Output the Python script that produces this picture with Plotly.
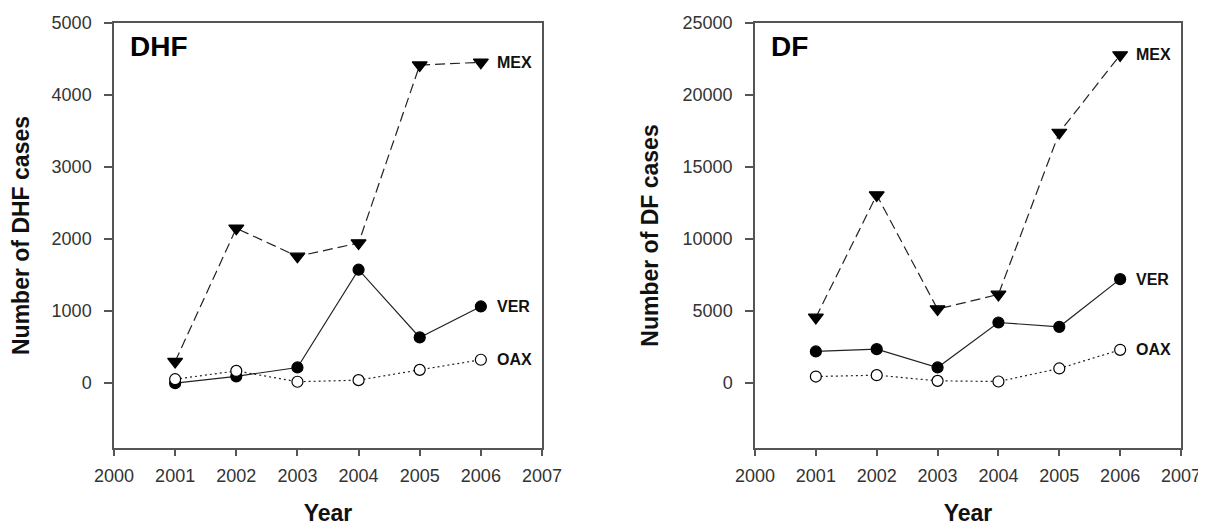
import plotly.graph_objects as go

years = [2001, 2002, 2003, 2004, 2005, 2006]

# DHF panel
dhf_mex = [300, 2150, 1760, 1945, 4415, 4455]
dhf_ver = [0, 95, 218, 1575, 635, 1065]
dhf_oax = [55, 170, 20, 42, 185, 325]

# DF panel
df_mex = [4560, 13060, 5140, 6160, 17400, 22780]
df_ver = [2200, 2360, 1090, 4210, 3910, 7220]
df_oax = [460, 555, 160, 115, 1020, 2315]

series_names = ["MEX", "VER", "OAX"]
x_ticks = [2000, 2001, 2002, 2003, 2004, 2005, 2006, 2007]
dhf_yticks = [0, 1000, 2000, 3000, 4000, 5000]
df_yticks = [0, 5000, 10000, 15000, 20000, 25000]

FONT = "Liberation Sans, Arial, sans-serif"
LINE_C = "#222222"
AX_C = "#555555"

fig = go.Figure()

styles = {
    "MEX": dict(dash="10px,5px", symbol="triangle-down", fill="#000000", size=13),
    "VER": dict(dash="solid", symbol="circle", fill="#000000", size=11),
    "OAX": dict(dash="2px,3px", symbol="circle", fill="#ffffff", size=11),
}

panels = [
    ("x", "y", [dhf_mex, dhf_ver, dhf_oax]),
    ("x2", "y2", [df_mex, df_ver, df_oax]),
]

for xr, yr, data in panels:
    for name, vals in zip(series_names, data):
        st = styles[name]
        fig.add_trace(go.Scatter(
            x=years, y=vals, mode="lines+markers", name=name,
            xaxis=xr, yaxis=yr, showlegend=False,
            line=dict(color=LINE_C, width=1.2, dash=st["dash"]),
            marker=dict(symbol=st["symbol"], size=st["size"], color=st["fill"],
                        line=dict(color="#000000", width=1.2)),
            cliponaxis=False,
        ))
        fig.add_annotation(
            x=years[-1], y=vals[-1], xref=xr, yref=yr, text=name,
            showarrow=False, xanchor="left", yanchor="middle", xshift=14,
            font=dict(family=FONT, size=16, color="#111111", weight="bold"),
        )

axis_common = dict(
    showline=True, linecolor=AX_C, linewidth=1.5, mirror=True,
    ticks="outside", tickcolor=AX_C, tickwidth=1.5,
    showgrid=False, zeroline=False, automargin=False,
    tickfont=dict(family=FONT, size=18, color="#333333"),
)

title_font = dict(family=FONT, size=23, color="#111111")

# page has an 8px body margin; figure sized to fit the window
W, H, OFF = 1198, 518, 8
xdom1 = [(114 - OFF) / W, (542 - OFF) / W]
xdom2 = [(755 - OFF) / W, (1181 - OFF) / W]
ydom = [1 - (448 - OFF) / H, 1 - (23 - OFF) / H]

fig.update_layout(
    width=W, height=H,
    margin=dict(l=0, r=0, t=0, b=0),
    paper_bgcolor="white", plot_bgcolor="white",
    xaxis=dict(domain=xdom1, range=[2000, 2007], tickvals=x_ticks, ticklen=6,
               anchor="y", ticklabelstandoff=5,
               title=dict(text="<b>Year</b>", standoff=25, font=title_font),
               **axis_common),
    yaxis=dict(domain=ydom, range=[-900, 5000], tickvals=dhf_yticks, ticklen=8,
               anchor="x", ticklabelstandoff=9, tickformat="d",
               title=dict(text="<b>Number of DHF cases</b>", standoff=18, font=title_font),
               **axis_common),
    xaxis2=dict(domain=xdom2, range=[2000, 2007], tickvals=x_ticks, ticklen=6,
                anchor="y2", ticklabelstandoff=5,
                title=dict(text="<b>Year</b>", standoff=25, font=title_font),
                **axis_common),
    yaxis2=dict(domain=ydom, range=[-4500, 25000], tickvals=df_yticks, ticklen=8,
                anchor="x2", ticklabelstandoff=9, tickformat="d",
                title=dict(text="<b>Number of DF cases</b>", standoff=18, font=title_font),
                **axis_common),
)

fig.add_annotation(x=0.033, y=0.985, xref="x domain", yref="y domain", text="<b>DHF</b>",
                   showarrow=False, xanchor="left", yanchor="top",
                   font=dict(family=FONT, size=28, color="#000000"))
fig.add_annotation(x=0.033, y=0.985, xref="x2 domain", yref="y2 domain", text="<b>DF</b>",
                   showarrow=False, xanchor="left", yanchor="top",
                   font=dict(family=FONT, size=28, color="#000000"))

fig.write_html("out.html")
